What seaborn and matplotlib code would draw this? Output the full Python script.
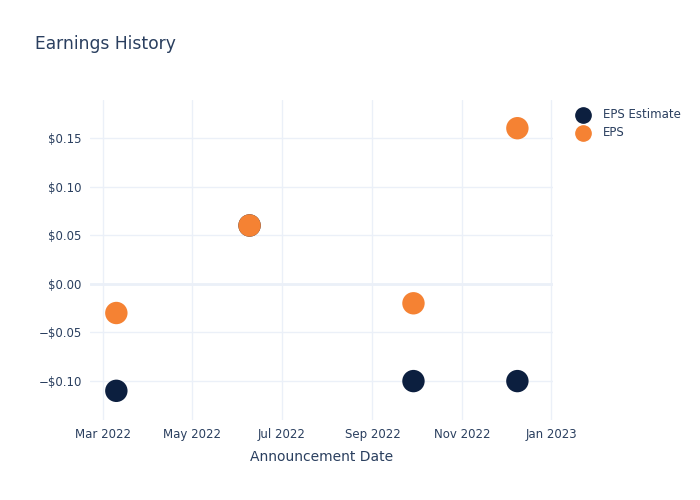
import matplotlib
matplotlib.use("Agg")
import matplotlib.pyplot as plt
import matplotlib.dates as mdates
import matplotlib.ticker as mticker
import seaborn as sns
import pandas as pd

dates = ["2022-03-10", "2022-06-09", "2022-09-29", "2022-12-09"]
eps_estimate = [-0.11, 0.06, -0.10, -0.10]
eps_actual = [-0.03, 0.06, -0.02, 0.16]
series_names = ["EPS Estimate", "EPS"]
colors = ["#0c1f3f", "#f58233"]

df = pd.DataFrame({
    "date": pd.to_datetime(dates * 2),
    "value": eps_estimate + eps_actual,
    "series": [series_names[0]] * len(dates) + [series_names[1]] * len(dates),
})

sns.set_style("white")
text_color = "#2a3f5f"
plt.rcParams['font.family'] = ['DejaVu Sans']

fig = plt.figure(figsize=(7, 5), dpi=100)
ax = fig.add_axes([90/700, 1 - 420/500, (553-90)/700, (420-100)/500])

sns.scatterplot(data=df, x="date", y="value", hue="series", palette=colors,
                s=260, edgecolor="none", ax=ax, legend=False, zorder=3)

ax.set_xlim(pd.Timestamp("2022-02-20"), pd.Timestamp("2023-01-02 08:00"))
ax.set_ylim(-0.140, 0.189)

ax.xaxis.set_major_locator(mdates.MonthLocator(bymonth=[1, 3, 5, 7, 9, 11]))
ax.xaxis.set_major_formatter(mdates.DateFormatter("%b %Y"))
ax.yaxis.set_major_locator(mticker.MultipleLocator(0.05))
ax.yaxis.set_major_formatter(mticker.FuncFormatter(
    lambda v, p: ("\u2212$%.2f" % abs(v)) if v < -1e-9 else "$%.2f" % abs(v)))

ax.grid(True, color="#ebf0f8", linewidth=1)
ax.axhline(0, color="#ebf0f8", linewidth=2, zorder=1)
for s in ax.spines.values():
    s.set_visible(False)
ax.tick_params(axis="both", length=0, labelsize=8.5, colors=text_color, pad=6)

ax.set_xlabel("Announcement Date", fontsize=10, color=text_color, labelpad=6)
ax.set_ylabel("")

fig.text(35/700, 1 - 44/500, "Earnings History", fontsize=12.3, color=text_color,
         va="center", ha="left")

# legend
for i, (name, c) in enumerate(zip(series_names, colors)):
    y = 1 - (115 + 18 * i) / 500
    fig.lines.append(plt.Line2D([583/700], [y], marker="o", markersize=11,
                                color=c, linestyle="none", transform=fig.transFigure))
    fig.text(603/700, y, name, fontsize=8.5, color=text_color, va="center", ha="left")

fig.savefig("out.png", dpi=100)
